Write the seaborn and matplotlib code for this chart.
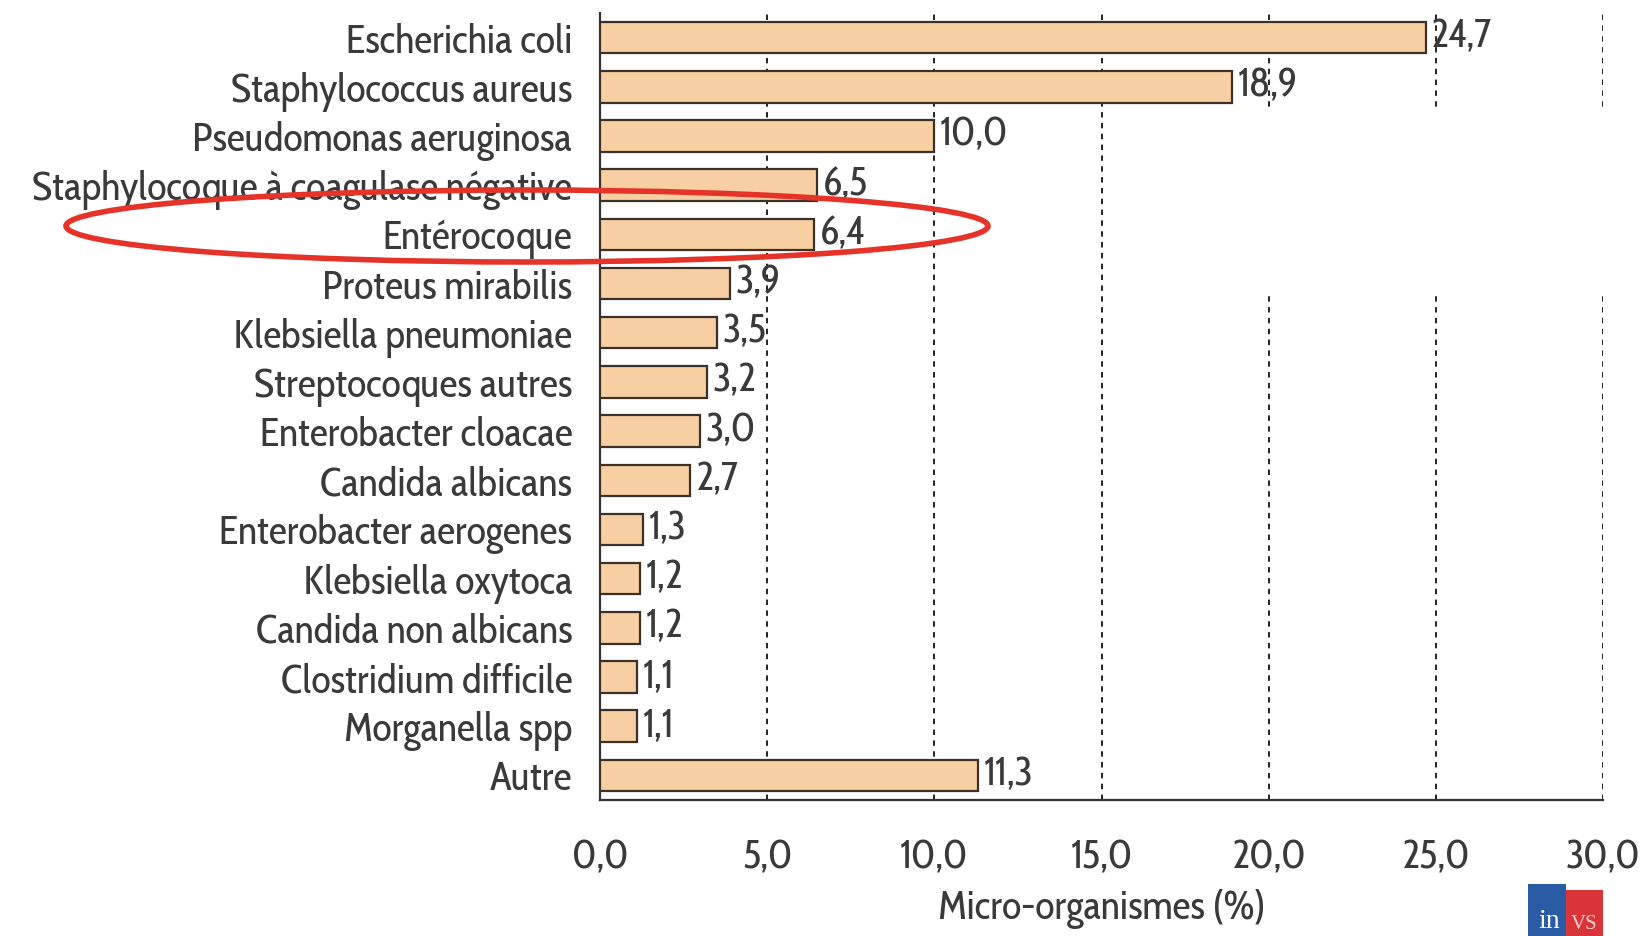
import numpy as np
import pandas as pd
import matplotlib
matplotlib.use("Agg")
import matplotlib.pyplot as plt
from matplotlib.patches import Ellipse, Rectangle
import seaborn as sns

# Micro-organismes isolés (%)
organismes = [
    "Escherichia coli", "Staphylococcus aureus", "Pseudomonas aeruginosa",
    "Staphylocoque à coagulase négative", "Entérocoque", "Proteus mirabilis",
    "Klebsiella pneumoniae", "Streptocoques autres", "Enterobacter cloacae",
    "Candida albicans", "Enterobacter aerogenes", "Klebsiella oxytoca",
    "Candida non albicans", "Clostridium difficile", "Morganella spp", "Autre",
]
pourcentages = [24.7, 18.9, 10.0, 6.5, 6.4, 3.9, 3.5, 3.2, 3.0, 2.7,
                1.3, 1.2, 1.2, 1.1, 1.1, 11.3]
x_ticks = [0, 5, 10, 15, 20, 25, 30]

sns.set_style("white")
plt.rcParams['font.family'] = ['Cabin Condensed', 'PT Sans Narrow', 'DejaVu Sans']
text_col = "#3a3a3a"
fs = 29

df = pd.DataFrame({"organisme": organismes, "pct": pourcentages})

fig = plt.figure(figsize=(16.43, 9.36), dpi=100)
ax = fig.add_axes([0.3652, 0.1453, 0.6105, 0.8408])

sns.barplot(data=df, y="organisme", x="pct", orient="h", color="#F8CFA2",
            saturation=1, edgecolor="#3b3128", linewidth=1.6, width=0.64,
            ax=ax, zorder=3)

labels = [f"{v:.1f}".replace(".", ",") for v in pourcentages]
ax.bar_label(ax.containers[0], labels=labels, padding=4, fontsize=fs,
             color=text_col)

ax.set_xlim(0, 30)
ax.set_ylim(15.5, -0.5)
ax.set_xticks(x_ticks)
ax.set_xticklabels([f"{t:.1f}".replace(".", ",") for t in x_ticks])
ax.set_yticks(np.arange(-0.5, 16, 1), minor=True)

ax.tick_params(axis="y", which="major", length=0, pad=20, labelsize=fs,
               labelcolor=text_col)
ax.tick_params(axis="y", which="minor", length=9, width=1.4, color="#333333",
               direction="out")
ax.tick_params(axis="x", length=12, width=1.4, color="#333333", pad=16,
               labelsize=fs, labelcolor=text_col)

ax.set_ylabel("")
ax.set_xlabel("Micro-organismes (%)", fontsize=fs, color=text_col, va="center")
ax.xaxis.set_label_coords(0.5, -0.139)

ax.grid(axis="x", color="#111111", linestyle=(0, (3, 3)), linewidth=1.3)
ax.grid(axis="y", visible=False)
ax.set_axisbelow(True)

# zone blanchie de la grille dans l'original
ax.add_patch(Rectangle((15.6, 1.45), 16, 3.75, facecolor="white",
                       edgecolor="none", zorder=1))

sns.despine(ax=ax, top=True, right=True)
for s in ["left", "bottom"]:
    ax.spines[s].set_color("#333333")
    ax.spines[s].set_linewidth(1.6)

# ellipse rouge autour d'Entérocoque
fig.add_artist(Ellipse((527 / 1643, 1 - 226 / 936), 922 / 1643, 72 / 936,
                       transform=fig.transFigure, fill=False,
                       edgecolor="#E5332A", linewidth=4, zorder=10))

# logo InVS
fig.add_artist(Rectangle((1528 / 1643, 0), 38 / 1643, 52 / 936,
                         transform=fig.transFigure, facecolor="#2A5CA6",
                         edgecolor="none"))
fig.add_artist(Rectangle((1566 / 1643, 0), 37 / 1643, 46 / 936,
                         transform=fig.transFigure, facecolor="#D8343A",
                         edgecolor="none"))
fig.text(1549 / 1643, 2 / 936, "in", color="white", fontsize=20,
         ha="center", va="bottom", family="Liberation Serif")
fig.text(1584 / 1643, 2 / 936, "VS", color="#f4d0d0", fontsize=15,
         ha="center", va="bottom", family="Liberation Serif")

fig.savefig("out.png", dpi=100, facecolor="white")
